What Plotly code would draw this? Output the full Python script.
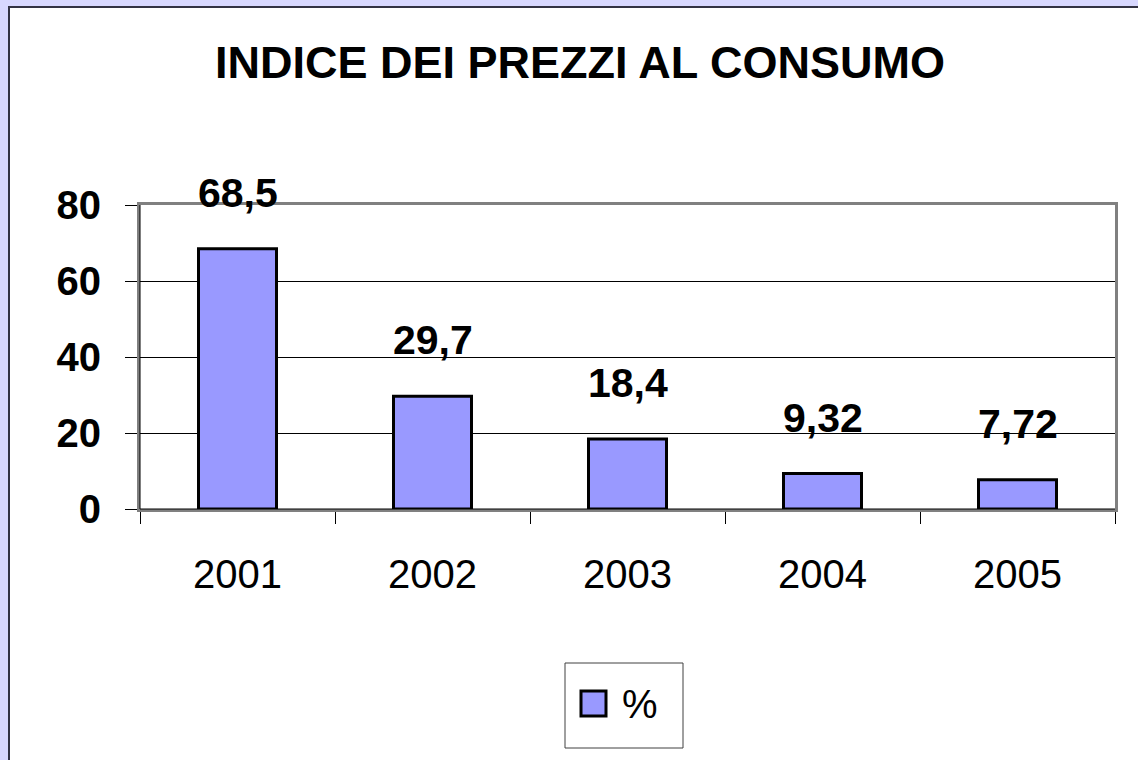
import plotly.graph_objects as go

years = ["2001", "2002", "2003", "2004", "2005"]
values = [68.5, 29.7, 18.4, 9.32, 7.72]
value_labels = ["68,5", "29,7", "18,4", "9,32", "7,72"]
y_ticks = [0, 20, 40, 60, 80]
series_name = "%"

W, H = 1138, 760

# plot area edges in pixels (body margin is removed below, so page == figure)
PX_L, PX_R, PX_T, PX_B = 140, 1115, 205, 509
L, T = PX_L, PX_T
R, B = W - PX_R, H - PX_B
pw, ph = W - L - R, H - T - B

def px_x(p):
    return (p - PX_L) / pw

def px_y(p):
    return (PX_B - p) / ph

BAR_COLOR = "#9999FF"
PAGE_BG = "#D8D8FF"
FONT = "Liberation Sans, Arial"

fig = go.Figure()

fig.add_trace(go.Bar(
    x=years, y=values, name=series_name,
    width=0.4,
    marker=dict(color=BAR_COLOR, line=dict(color="black", width=3)),
    showlegend=False,
))

# data labels above the bars (category index, so "2001" isn't read as a number)
for i, (v, lab) in enumerate(zip(values, value_labels)):
    fig.add_annotation(
        x=i, y=v, text=lab, showarrow=False, yshift=56,
        font=dict(family=FONT, size=41, color="black", weight="bold"),
    )

# --- frame: lavender page, white panel ---
fig.add_shape(type="rect", xref="paper", yref="paper", layer="below",
              x0=px_x(9), x1=px_x(1160), y0=px_y(790), y1=px_y(7),
              fillcolor="white", line=dict(color="#333344", width=2))

# black axis lines over the gray plot border
fig.add_shape(type="line", xref="paper", yref="paper",
              x0=0, x1=0, y0=0, y1=1, line=dict(color="black", width=1))
fig.add_shape(type="line", xref="paper", yref="paper",
              x0=0, x1=1, y0=0, y1=0, line=dict(color="black", width=1))

# --- legend box drawn by hand (plotly swatches are too small) ---
fig.add_shape(type="rect", xref="paper", yref="paper",
              x0=px_x(565), x1=px_x(683), y0=px_y(748), y1=px_y(663),
              fillcolor="white", line=dict(color="#404040", width=1))
fig.add_shape(type="rect", xref="paper", yref="paper",
              x0=px_x(581), x1=px_x(606), y0=px_y(716), y1=px_y(691),
              fillcolor=BAR_COLOR, line=dict(color="black", width=3))
fig.add_annotation(xref="paper", yref="paper", x=px_x(620), y=px_y(704),
                   xanchor="left", yanchor="middle", showarrow=False,
                   text=series_name, font=dict(family=FONT, size=40, color="black"))

fig.update_layout(
    width=W, height=H,
    margin=dict(l=L, r=R, t=T, b=B, autoexpand=False),
    paper_bgcolor=PAGE_BG,
    plot_bgcolor="white",
    showlegend=False,
    hovermode=False,
    title=dict(
        text="INDICE DEI PREZZI AL CONSUMO",
        x=580 / W, xanchor="center", y=1 - 62 / H, yanchor="middle",
        font=dict(family=FONT, size=45, color="black", weight="bold"),
    ),
    xaxis=dict(
        type="category", range=[-0.5, len(years) - 0.5], automargin=False,
        showgrid=False, tickson="boundaries", ticks="outside", ticklen=12,
        tickcolor="black", tickwidth=1,
        showline=True, linecolor="#808080", linewidth=3, mirror=True,
        tickfont=dict(family=FONT, size=40, color="black"),
        ticklabelstandoff=28,
    ),
    yaxis=dict(
        range=[0, 80], tickvals=y_ticks, ticktext=[str(t) for t in y_ticks],
        automargin=False,
        showgrid=True, gridcolor="black", gridwidth=1, zeroline=False,
        ticks="outside", ticklen=12, tickcolor="black", tickwidth=1,
        showline=True, linecolor="#808080", linewidth=3, mirror=True,
        tickfont=dict(family=FONT, size=40, color="black", weight="bold"),
        ticklabelstandoff=16,
    ),
)

# drop the default body margin so the figure sits at the page's top-left corner
fig.write_html(
    "out.html",
    config={"displayModeBar": False},
    post_script="document.body.style.margin='0';document.body.style.overflow='hidden';",
)
